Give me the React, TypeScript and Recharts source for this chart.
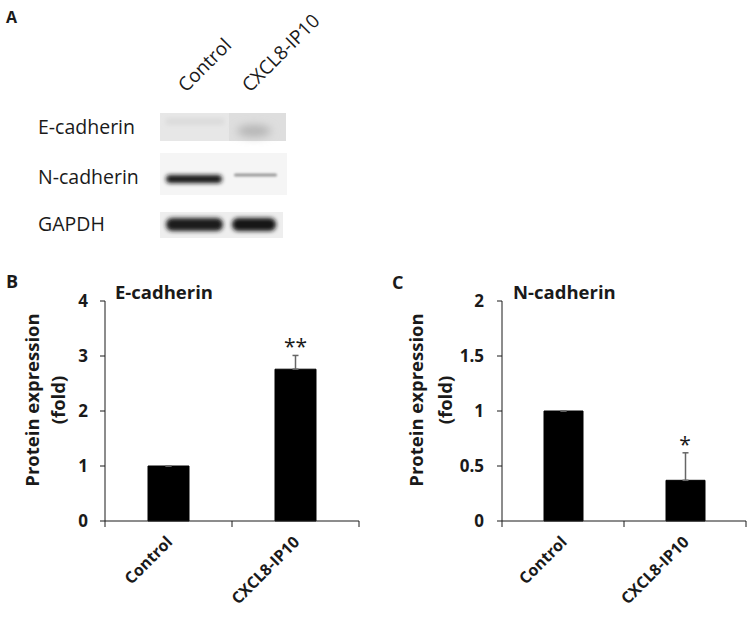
import React from 'react';
import { BarChart, Bar, XAxis, YAxis, ErrorBar, ReferenceDot } from 'recharts';

// ---------- data ----------
const categories = ['Control', 'CXCL8-IP10'];
const eCadherinMean = [1.0, 2.76];
const eCadherinErr = [0, 0.25];
const eCadherinSig = ['', '**'];
const nCadherinMean = [1.0, 0.37];
const nCadherinErr = [0, 0.25];
const nCadherinSig = ['', '*'];
const eTicks = [0, 1, 2, 3, 4];
const nTicks = [0, 0.5, 1, 1.5, 2];
const blotRows = ['E-cadherin', 'N-cadherin', 'GAPDH'];
const laneLabels = ['Control', 'CXCL8-IP10'];
const yTitle = ['Protein expression', '(fold)'];

const FONT = "'Open Sans', Lato, sans-serif";
const INK = '#1a1a1a';

// upper-only error bars (the lower half is hidden behind the black bar in the original)
const makeData = (mean: number[], err: number[], sig: string[]) =>
  categories.map((name, i) => ({ name, mean: mean[i], err: [0, err[i]], up: err[i], sig: sig[i] }));

const eData = makeData(eCadherinMean, eCadherinErr, eCadherinSig);
const nData = makeData(nCadherinMean, nCadherinErr, nCadherinSig);

const Y_W = 60;
const X_H = 60;

function XTick(props: any) {
  const { x, y, payload, index, bw, n } = props;
  const ax = x + 5;
  const ay = y + 22;
  return (
    <g>
      <line x1={x - bw / 2} y1={y} x2={x - bw / 2} y2={y + 6} stroke={INK} strokeWidth={1} />
      {index === n - 1 ? (
        <line x1={x + bw / 2} y1={y} x2={x + bw / 2} y2={y + 6} stroke={INK} strokeWidth={1} />
      ) : null}
      <text
        x={ax}
        y={ay}
        textAnchor="end"
        transform={`rotate(-45, ${ax}, ${ay})`}
        fontFamily={FONT}
        fontWeight={700}
        fontSize={16}
        fill={INK}
      >
        {payload.value}
      </text>
    </g>
  );
}

function Panel(props: {
  left: number;
  width: number;
  data: any[];
  ticks: number[];
  margin: { top: number; left: number; right: number; bottom: number };
  barSize: number;
  tickMargin: number;
}) {
  const { left, width, data, ticks, margin, barSize, tickMargin } = props;
  const plotW = width - margin.left - margin.right - Y_W;
  const bw = plotW / data.length;
  return (
    <div style={{ position: 'absolute', left, top: 0 }}>
      <BarChart width={width} height={619} data={data} margin={margin}>
        <XAxis
          dataKey="name"
          height={X_H}
          interval={0}
          tickLine={false}
          tickSize={0}
          tickMargin={0}
          axisLine={{ stroke: INK, strokeWidth: 1 }}
          tick={<XTick bw={bw} n={data.length} />}
        />
        <YAxis
          width={Y_W}
          domain={[ticks[0], ticks[ticks.length - 1]]}
          ticks={ticks}
          interval={0}
          tickSize={5}
          tickMargin={tickMargin}
          axisLine={{ stroke: INK, strokeWidth: 1 }}
          tickLine={{ stroke: INK, strokeWidth: 1 }}
          tick={{ fontSize: 17, fontWeight: 700, fill: INK, fontFamily: FONT }}
        />
        <Bar dataKey="mean" fill="#000" stroke="#000" barSize={barSize} isAnimationActive={false}>
          <ErrorBar dataKey="err" width={3} stroke="#666" strokeWidth={1.5} direction="y" isAnimationActive={false} />
        </Bar>
        {data
          .filter((d) => d.sig)
          .map((d) => (
            <ReferenceDot
              key={d.name}
              x={d.name}
              y={d.mean + d.up}
              r={0}
              fill="none"
              stroke="none"
              label={{ value: d.sig, position: 'top', offset: 1, fontSize: 21, fill: INK, fontFamily: FONT }}
            />
          ))}
      </BarChart>
    </div>
  );
}

function Blot() {
  return (
    <g>
      <defs>
        <filter id="blur2" x="-30%" y="-100%" width="160%" height="300%">
          <feGaussianBlur stdDeviation="2" />
        </filter>
        <filter id="blur4" x="-50%" y="-150%" width="200%" height="400%">
          <feGaussianBlur stdDeviation="4" />
        </filter>
        <filter id="blur1" x="-30%" y="-200%" width="160%" height="500%">
          <feGaussianBlur stdDeviation="1.2" />
        </filter>
      </defs>
      {/* E-cadherin */}
      <rect x={160} y={113} width={69} height={28} fill="#e7e7e7" />
      <rect x={229} y={113} width={57} height={28} fill="#dedede" />
      <rect x={166} y={118} width={58} height={7} fill="#dcdcdc" filter="url(#blur2)" />
      <ellipse cx={254} cy={131} rx={17} ry={6} fill="#b4b4b4" filter="url(#blur4)" />
      {/* N-cadherin */}
      <rect x={160} y={153} width={127} height={42} fill="#f5f5f5" />
      <rect x={166} y={175} width={56} height={8} rx={4} fill="#151515" filter="url(#blur2)" />
      <rect x={234} y={173.5} width={43} height={3} rx={1.5} fill="#9a9a9a" filter="url(#blur1)" />
      {/* GAPDH */}
      <rect x={160} y={212} width={123} height={26} fill="#eeeeee" />
      <rect x={166} y={218} width={57} height={13} rx={6} fill="#1c1c1c" filter="url(#blur2)" />
      <rect x={232} y={218} width={44} height={13} rx={6} fill="#151515" filter="url(#blur2)" />
    </g>
  );
}

export default function App() {
  const rowBase = [134, 184, 231];
  const laneX = [186, 250];
  return (
    <div style={{ position: 'absolute', left: 0, top: 0, width: 750, height: 619, background: '#fff', overflow: 'hidden' }}>
      <Panel
        left={0}
        width={370}
        data={eData}
        ticks={eTicks}
        margin={{ top: 301, left: 105 - Y_W, right: 370 - 359, bottom: 619 - 521 - X_H }}
        barSize={41}
        tickMargin={12}
      />
      <Panel
        left={370}
        width={380}
        data={nData}
        ticks={nTicks}
        margin={{ top: 301, left: 132 - Y_W, right: 380 - 376, bottom: 619 - 521 - X_H }}
        barSize={39}
        tickMargin={13}
      />
      <svg
        width={750}
        height={619}
        style={{ position: 'absolute', left: 0, top: 0, pointerEvents: 'none' }}
        fontFamily={FONT}
      >
        <text x={6} y={23} fontSize={16} fontWeight={700} fill={INK}>A</text>
        <text x={6} y={288} fontSize={18} fontWeight={700} fill={INK}>B</text>
        <text x={392} y={289} fontSize={18} fontWeight={700} fill={INK}>C</text>

        {laneLabels.map((l, i) => (
          <text
            key={l}
            x={laneX[i]}
            y={93}
            fontSize={19}
            fill={INK}
            transform={`rotate(-45, ${laneX[i]}, 93)`}
          >
            {l}
          </text>
        ))}
        {blotRows.map((r, i) => (
          <text key={r} x={38} y={rowBase[i]} fontSize={19.5} fill={INK}>{r}</text>
        ))}
        <Blot />

        <text x={115} y={299} fontSize={18.5} fontWeight={700} fill={INK}>E-cadherin</text>
        <text x={513} y={299} fontSize={18.5} fontWeight={700} fill={INK}>N-cadherin</text>

        {[{ cx: [39, 65] }, { cx: [423, 452] }].map((p, k) =>
          yTitle.map((t, j) => (
            <text
              key={`${k}-${j}`}
              x={p.cx[j]}
              y={400}
              textAnchor="middle"
              fontSize={18.5}
              fontWeight={700}
              fill={INK}
              transform={`rotate(-90, ${p.cx[j]}, 400)`}
            >
              {t}
            </text>
          ))
        )}
      </svg>
    </div>
  );
}
